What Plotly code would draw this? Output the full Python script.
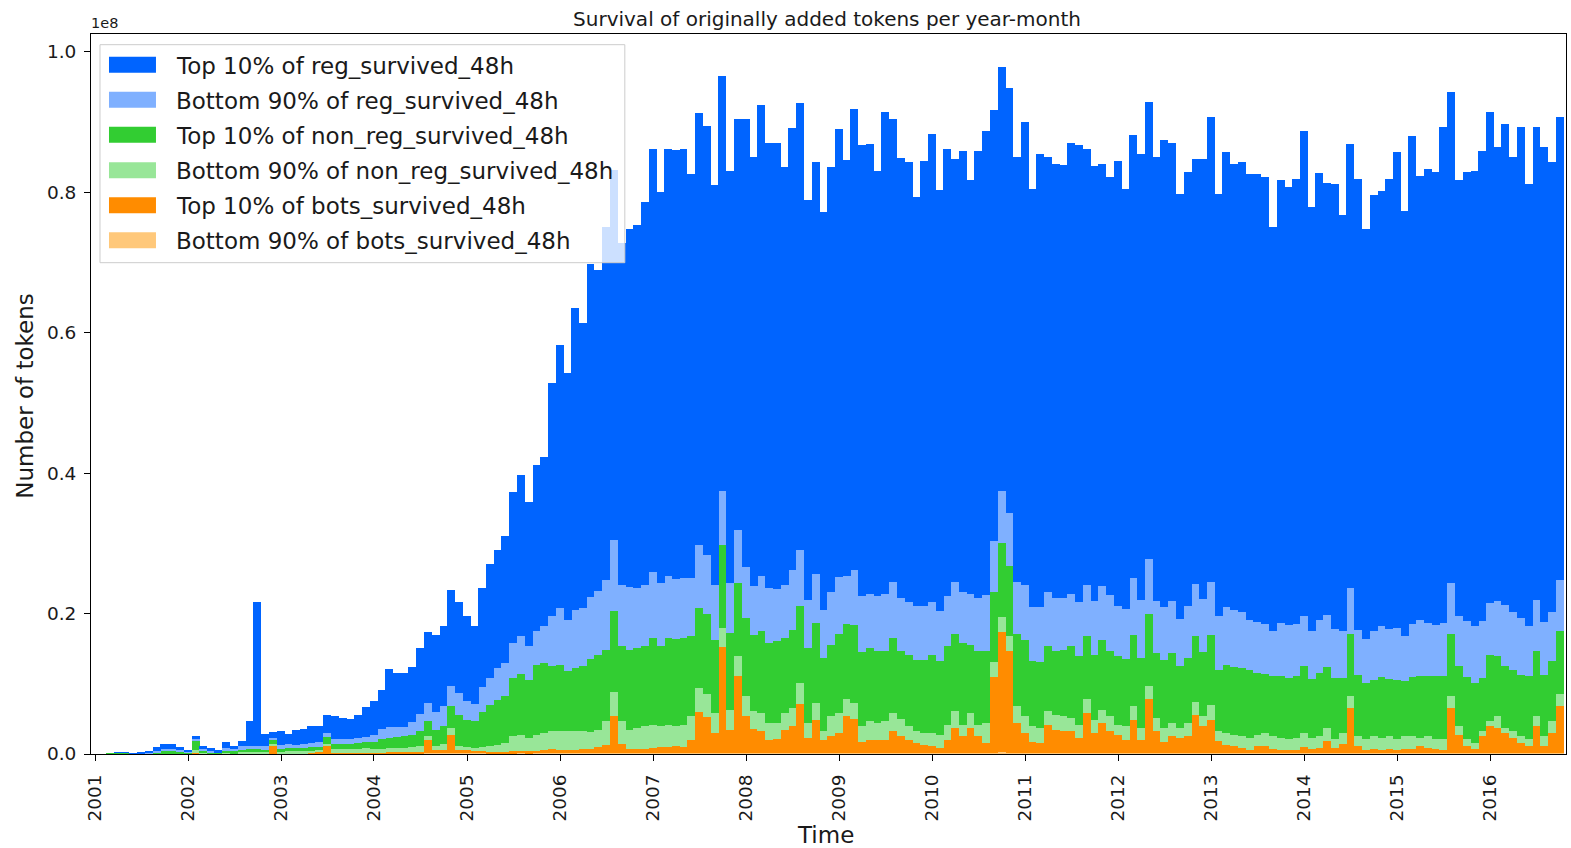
import plotly.graph_objects as go
import pandas as pd

# ---------------- data (values in millions of tokens) ----------------
months = [f"{y}-{m:02d}" for y in range(2001, 2017) for m in range(1, 13)][:189]

reg_top10 = [
    0, 0, 0.02, 0.02, 0.03, 0.14, 0.23, 0.48, 0.71, 0.71,
    0.33, 0.24, 0.47, 0.48, 0.38, 0.24, 0.81, 0.48, 0.81, 3.51,
    20.61, 1.76, 0.9, 2.01, 1.52, 2.02, 2.14, 2.33, 2.24, 2.6,
    3.3, 3.03, 2.9, 3.3, 4.25, 4.85, 5.57, 8.36, 7.7, 7.6,
    7.8, 9.4, 10.14, 11.0, 11.5, 13.66, 12.9, 12.0, 11.05, 14.2,
    16.27, 16.75, 18.14, 21.49, 23.04, 20.56, 23.63, 24.12, 33.19, 37.5,
    35.17, 42.94, 40.6, 47.5, 45.83, 50.27, 52.77, 48.68, 51.01, 51.75,
    54.48, 60.32, 55.64, 60.8, 61.07, 61.13, 57.53, 61.62, 61.15, 56.88,
    59.09, 58.74, 58.54, 63.71, 61.12, 67.1, 63.35, 63.5, 59.48, 62.94,
    63.69, 56.92, 58.61, 56.64, 60.57, 63.8, 59.29, 65.74, 64.24, 64.06,
    60.55, 68.56, 66.05, 62.68, 62.7, 58.27, 63.47, 66.7, 59.98, 63.65,
    60.35, 62.87, 58.86, 63.68, 66.1, 61.31, 60.43, 60.47, 60.55, 65.88,
    59.56, 64.56, 61.92, 61.88, 61.68, 64.26, 65.1, 62.08, 62.05, 60.12,
    59.5, 63.47, 59.85, 63.03, 63.52, 65.12, 63.25, 66.46, 65.35, 60.57,
    61.77, 60.54, 62.72, 66.25, 60.19, 64.76, 63.44, 64.12, 63.47, 63.85,
    63.64, 57.53, 63.04, 62.38, 63.34, 69.19, 60.33, 63.66, 61.55, 63.39,
    59.33, 63.25, 64.19, 58.42, 62.13, 62.02, 64.09, 67.75, 60.54, 69.54,
    63.36, 64.64, 64.48, 70.64, 69.94, 62.09, 64.0, 64.82, 67.0, 69.89,
    64.75, 68.43, 64.82, 69.93, 62.92, 67.32, 67.65, 64.12, 65.96,
]

reg_bottom90 = [
    0, 0, 0.02, 0.02, 0, 0.05, 0.14, 0.23, 0.33, 0.33,
    0.29, 0.14, 0.19, 0.24, 0.19, 0.09, 0.38, 0.33, 0.47, 0.48,
    0.38, 0.47, 0.3, 0.48, 0.48, 0.47, 0.57, 0.62, 0.66, 0.55,
    0.7, 0.65, 0.65, 0.7, 0.8, 0.95, 1.4, 1.45, 1.4, 1.4,
    1.85, 2.47, 2.61, 2.65, 2.86, 2.85, 3.2, 2.7, 2.5, 3.55,
    3.8, 4.51, 4.75, 4.98, 5.32, 4.75, 4.75, 5.22, 7.12, 8.08,
    7.35, 8.31, 8.31, 8.8, 9.02, 9.97, 10.11, 8.78, 8.93, 8.55,
    8.78, 9.36, 8.93, 8.88, 8.55, 8.55, 8.31, 8.88, 8.4, 7.83,
    7.73, 7.12, 7.55, 7.27, 6.88, 7.93, 7.84, 7.45, 7.6, 8.55,
    7.98, 6.88, 7.03, 6.89, 7.46, 8.1, 6.89, 7.74, 7.98, 7.74,
    7.93, 8.22, 7.93, 7.6, 7.45, 7.59, 7.59, 7.45, 7.12, 7.21,
    7.31, 7.22, 7.27, 7.6, 8.08, 7.36, 7.31, 7.59, 7.31, 7.83,
    7.74, 7.88, 7.74, 7.6, 7.36, 7.5, 7.69, 7.36, 7.6, 7.59,
    8.08, 7.12, 7.12, 8.07, 8.31, 7.83, 7.36, 7.5, 7.36, 6.65,
    7.46, 7.5, 7.6, 7.45, 7.6, 8.22, 8.17, 7.93, 7.12, 7.21,
    7.12, 6.41, 7.6, 7.59, 7.5, 7.12, 6.89, 7.5, 7.46, 6.98,
    6.64, 6.65, 6.41, 6.27, 6.88, 7.21, 7.13, 7.36, 6.51, 7.59,
    7.98, 7.5, 7.36, 7.6, 7.26, 7.12, 7.93, 8.17, 8.07, 7.36,
    7.84, 8.78, 8.17, 8.07, 7.22, 7.36, 7.45, 6.98, 7.27,
]

nonreg_top10 = [
    0, 0.1, 0.15, 0.15, 0.02, 0.04, 0.07, 0.14, 0.24, 0.24,
    0.19, 0.14, 1.33, 0.28, 0.14, 0.09, 0.28, 0.24, 0.38, 0.47,
    0.47, 0.38, 0.55, 0.47, 0.52, 0.48, 0.52, 0.57, 0.53, 1.05,
    0.7, 0.75, 0.75, 0.9, 0.85, 1.0, 1.5, 1.55, 1.6, 1.65,
    1.75, 2.14, 2.13, 2.15, 2.49, 3.09, 4.3, 3.9, 3.75, 4.95,
    5.94, 6.41, 6.64, 8.31, 8.69, 8.31, 9.97, 9.97, 9.26, 9.49,
    8.55, 9.02, 9.26, 10.4, 10.68, 10.21, 11.54, 10.69, 11.39, 11.4,
    11.4, 12.34, 11.39, 12.34, 12.44, 12.34, 11.39, 11.4, 11.4, 10.45,
    11.87, 10.93, 10.35, 11.16, 10.92, 11.63, 11.39, 11.63, 10.68, 11.16,
    10.92, 10.68, 11.4, 10.44, 10.2, 11.2, 10.68, 11.16, 10.44, 10.45,
    10.2, 9.97, 10.68, 9.63, 10.11, 10.21, 10.45, 11.16, 10.45, 11.16,
    11.06, 11.63, 9.73, 10.44, 10.2, 9.97, 10.59, 9.88, 10.35, 10.92,
    9.26, 9.36, 9.26, 9.02, 9.49, 10.21, 9.73, 8.93, 9.35, 9.98,
    9.25, 9.73, 9.59, 10.21, 9.97, 10.21, 9.26, 9.74, 9.97, 8.88,
    9.25, 9.35, 9.11, 9.97, 8.78, 9.73, 9.64, 9.73, 9.73, 8.79,
    8.45, 8.64, 8.78, 8.69, 8.78, 9.5, 8.4, 9.02, 8.69, 8.69,
    7.84, 8.79, 8.78, 7.97, 8.07, 8.69, 8.16, 8.45, 7.83, 8.45,
    8.78, 8.64, 8.92, 8.92, 8.79, 8.55, 8.83, 8.54, 7.6, 9.5,
    8.54, 8.79, 8.78, 8.78, 8.92, 9.25, 8.78, 8.55, 9.02,
]

nonreg_bottom90 = [
    0, 0, 0.05, 0.05, 0, 0.01, 0.03, 0.1, 0.14, 0.14,
    0.14, 0.1, 0.48, 0.19, 0.14, 0.1, 0.19, 0.14, 0.24, 0.24,
    0.24, 0.24, 0.35, 0.24, 0.33, 0.33, 0.33, 0.24, 0.14, 0.3,
    0.5, 0.5, 0.5, 0.5, 0.6, 0.5, 0.5, 0.55, 0.55, 0.6,
    0.7, 0.79, 0.52, 0.7, 0.85, 0.95, 0.6, 0.5, 0.5, 0.6,
    0.85, 1.03, 1.27, 2.14, 2.28, 1.9, 2.28, 2.37, 2.52, 2.61,
    2.61, 2.61, 2.52, 2.4, 2.47, 3.32, 3.41, 3.18, 2.76, 2.99,
    3.23, 3.33, 3.04, 3.18, 2.85, 3.18, 3.42, 3.46, 3.18, 2.85,
    2.71, 2.84, 2.85, 2.84, 2.52, 2.61, 2.47, 2.28, 2.47, 2.61,
    3.08, 2.14, 2.37, 1.19, 2.85, 2.9, 2.37, 2.27, 2.38, 2.61,
    2.47, 2.61, 2.61, 2.47, 2.0, 1.66, 1.66, 1.8, 1.9, 2.14,
    2.38, 1.66, 2.14, 1.66, 2.85, 2.13, 2.13, 2.14, 2.37, 2.38,
    2.28, 2.13, 1.9, 2.13, 2.14, 1.9, 1.9, 1.99, 1.81, 1.89,
    2.14, 1.43, 1.9, 1.9, 1.66, 1.9, 1.9, 2.04, 1.9, 1.42,
    1.9, 1.81, 1.43, 2.14, 1.43, 1.66, 1.66, 1.67, 1.66, 1.56,
    1.8, 1.81, 1.66, 1.62, 1.66, 1.99, 1.57, 1.67, 1.9, 1.29,
    1.52, 1.66, 1.43, 1.52, 1.81, 1.66, 1.81, 1.52, 1.81, 1.81,
    1.19, 1.67, 1.43, 1.52, 1.66, 1.19, 0.95, 0.86, 0.71, 0.71,
    1.67, 0.71, 0.95, 0.95, 1.05, 1.43, 1.43, 1.66, 1.66,
]

bots_top10 = [
    0, 0, 0, 0, 0, 0, 0, 0, 0, 0,
    0, 0, 0.14, 0, 0, 0, 0, 0, 0, 0,
    0, 0, 1.05, 0, 0, 0, 0, 0.14, 0.33, 1.05,
    0.15, 0.15, 0.15, 0.15, 0.15, 0.15, 0.15, 0.2, 0.2, 0.2,
    0.2, 0.2, 1.9, 0.4, 0.5, 2.65, 0.5, 0.4, 0.3, 0.3,
    0.14, 0.2, 0.2, 0.28, 0.37, 0.28, 0.37, 0.52, 0.61, 0.52,
    0.52, 0.52, 0.61, 0.6, 0.9, 1.23, 5.27, 1.37, 0.61, 0.61,
    0.61, 0.75, 0.9, 0.9, 0.99, 0.9, 1.85, 5.84, 5.17, 2.89,
    15.0, 3.37, 10.96, 5.27, 3.46, 3.13, 1.85, 2.04, 3.27, 3.84,
    6.93, 2.18, 4.79, 1.94, 2.42, 2.9, 5.27, 4.89, 1.56, 1.94,
    1.85, 1.94, 3.13, 2.42, 1.94, 1.47, 1.23, 1.09, 0.75, 1.94,
    3.6, 2.42, 3.6, 2.42, 1.47, 10.73, 17.14, 14.52, 4.32, 2.89,
    1.56, 1.47, 4.08, 3.37, 3.13, 3.13, 2.18, 5.74, 2.89, 4.32,
    3.13, 2.65, 1.94, 4.79, 1.94, 7.64, 3.13, 1.56, 2.42, 2.18,
    2.42, 5.5, 3.84, 4.79, 1.7, 1.23, 0.99, 0.75, 0.52, 1.09,
    1.09, 0.61, 0.52, 0.42, 0.52, 0.9, 0.61, 0.75, 1.7, 0.75,
    1.37, 6.45, 0.99, 0.52, 0.61, 0.52, 0.61, 0.52, 0.61, 0.61,
    0.99, 0.75, 0.61, 0.52, 6.45, 2.65, 1.09, 0.61, 2.42, 3.84,
    3.6, 2.89, 2.18, 1.47, 0.99, 3.84, 0.99, 2.89, 6.69,
]

bots_bottom90 = [
    0, 0, 0, 0, 0, 0, 0, 0, 0, 0,
    0, 0, 0, 0, 0, 0, 0, 0, 0, 0,
    0, 0, 0.05, 0.05, 0.05, 0.05, 0.05, 0.05, 0.05, 0.05,
    0.05, 0.05, 0.05, 0.05, 0.05, 0.05, 0.05, 0.05, 0.05, 0.05,
    0.1, 0.1, 0.12, 0.1, 0.1, 0.12, 0.1, 0.1, 0.1, 0.1,
    0.1, 0.1, 0.1, 0.1, 0.1, 0.1, 0.1, 0.1, 0.1, 0.1,
    0.1, 0.1, 0.1, 0.1, 0.1, 0.1, 0.15, 0.1, 0.1, 0.1,
    0.1, 0.1, 0.1, 0.1, 0.1, 0.1, 0.1, 0.15, 0.15, 0.1,
    0.2, 0.1, 0.2, 0.15, 0.1, 0.1, 0.1, 0.1, 0.1, 0.1,
    0.15, 0.1, 0.1, 0.1, 0.1, 0.1, 0.15, 0.12, 0.1, 0.1,
    0.1, 0.1, 0.1, 0.1, 0.1, 0.1, 0.1, 0.1, 0.1, 0.1,
    0.12, 0.1, 0.12, 0.1, 0.1, 0.2, 0.25, 0.2, 0.12, 0.1,
    0.1, 0.1, 0.12, 0.1, 0.1, 0.1, 0.1, 0.12, 0.1, 0.12,
    0.1, 0.1, 0.1, 0.12, 0.1, 0.15, 0.1, 0.1, 0.1, 0.1,
    0.1, 0.12, 0.1, 0.12, 0.1, 0.1, 0.1, 0.1, 0.1, 0.1,
    0.1, 0.1, 0.1, 0.1, 0.1, 0.1, 0.1, 0.1, 0.1, 0.1,
    0.1, 0.15, 0.1, 0.1, 0.1, 0.1, 0.1, 0.1, 0.1, 0.1,
    0.1, 0.1, 0.1, 0.1, 0.15, 0.1, 0.1, 0.1, 0.1, 0.12,
    0.12, 0.1, 0.1, 0.1, 0.1, 0.12, 0.1, 0.1, 0.15,
]

year_ticks = [str(y) for y in range(2001, 2017)]
y_ticks = [0, 20, 40, 60, 80, 100]
y_tick_text = ["0.0", "0.2", "0.4", "0.6", "0.8", "1.0"]

# legend order: top entry first
series = [
    ("Top 10% of reg_survived_48h", reg_top10, "#0064ff"),
    ("Bottom 90% of reg_survived_48h", reg_bottom90, "#7fb0ff"),
    ("Top 10% of non_reg_survived_48h", nonreg_top10, "#32cd32"),
    ("Bottom 90% of non_reg_survived_48h", nonreg_bottom90, "#98e698"),
    ("Top 10% of bots_survived_48h", bots_top10, "#ff8c00"),
    ("Bottom 90% of bots_survived_48h", bots_bottom90, "#ffc87a"),
]

# bars centred on month ends
x_dates = [pd.Period(m, freq="M").end_time.strftime("%Y-%m-%d") for m in months]
bar_width_ms = 31 * 24 * 3600 * 1000

fig = go.Figure()
for name, vals, col in reversed(series):  # stack from bottom to top
    fig.add_trace(go.Bar(
        x=x_dates, y=vals, name=name,
        width=[bar_width_ms] * len(x_dates),
        marker=dict(color=col, line=dict(width=0)),
        showlegend=False,
    ))

# ---------------- layout ----------------
W, H = 1571, 848
L, R, T, B = 91, 4.5, 34.3, 93.7
PW, PH = W - L - R, H - T - B


def px_x(px):
    return (px - L) / PW


def px_y(py):
    return (H - B - py) / PH


FONT = "DejaVu Sans"
TXT = "#1a1a1a"
shapes = []
annotations = []

# legend box
shapes.append(dict(type="rect", xref="paper", yref="paper", layer="above",
                   x0=px_x(100), x1=px_x(625), y0=px_y(263), y1=px_y(45),
                   fillcolor="rgba(255,255,255,0.8)",
                   line=dict(color="#cccccc", width=1)))
row_y = [65, 100, 135, 170.5, 205.5, 240.5]
for (name, vals, col), ry in zip(series, row_y):
    shapes.append(dict(type="rect", xref="paper", yref="paper", layer="above",
                       x0=px_x(109), x1=px_x(156), y0=px_y(ry + 8), y1=px_y(ry - 8),
                       fillcolor=col, line=dict(width=0)))
    annotations.append(dict(text=name, xref="paper", yref="paper",
                            x=px_x(174), y=px_y(ry + 1), xanchor="left", yanchor="middle",
                            showarrow=False, font=dict(family=FONT, size=23, color=TXT)))

annotations.append(dict(text="1e8", xref="paper", yref="paper", x=px_x(89), y=px_y(23),
                        xanchor="left", yanchor="middle", showarrow=False,
                        font=dict(family=FONT, size=14.5, color=TXT)))
annotations.append(dict(text="Time", xref="paper", yref="paper", x=px_x(826), y=px_y(835),
                        xanchor="center", yanchor="middle", showarrow=False,
                        font=dict(family=FONT, size=23, color=TXT)))
annotations.append(dict(text="Number of tokens", xref="paper", yref="paper", x=px_x(25), y=px_y(397),
                        xanchor="center", yanchor="middle", showarrow=False, textangle=-90,
                        font=dict(family=FONT, size=23, color=TXT)))

fig.update_layout(
    width=W, height=H,
    margin=dict(l=L, r=R, t=T, b=B, pad=0),
    paper_bgcolor="white", plot_bgcolor="white",
    barmode="stack", bargap=0, showlegend=False,
    font=dict(family=FONT, color=TXT),
    title=dict(text="Survival of originally added tokens per year-month",
               x=827 / W, xanchor="center", xref="container",
               y=1 - 18.5 / H, yanchor="middle",
               font=dict(family=FONT, size=20, color=TXT)),
    shapes=shapes, annotations=annotations,
)
fig.update_xaxes(
    type="date", range=["2000-12-16", "2016-10-24"],
    tickvals=[f"{y}-01-01" for y in year_ticks], ticktext=year_ticks,
    tickangle=-90, ticks="outside", ticklen=6, tickwidth=1, tickcolor="black",
    showline=True, linecolor="black", linewidth=1, mirror=True,
    showgrid=False, zeroline=False, ticklabelstandoff=6,
    tickfont=dict(family=FONT, size=18.5, color=TXT),
)
fig.update_yaxes(
    range=[0, 102.56], tickvals=y_ticks, ticktext=y_tick_text,
    ticks="outside", ticklen=6, tickwidth=1, tickcolor="black",
    showline=True, linecolor="black", linewidth=1, mirror=True,
    showgrid=False, zeroline=False, ticklabelstandoff=4,
    tickfont=dict(family=FONT, size=18.5, color=TXT),
)

fig.write_html("out.html", config={"displayModeBar": False},
               post_script="document.body.style.margin='0px';")
